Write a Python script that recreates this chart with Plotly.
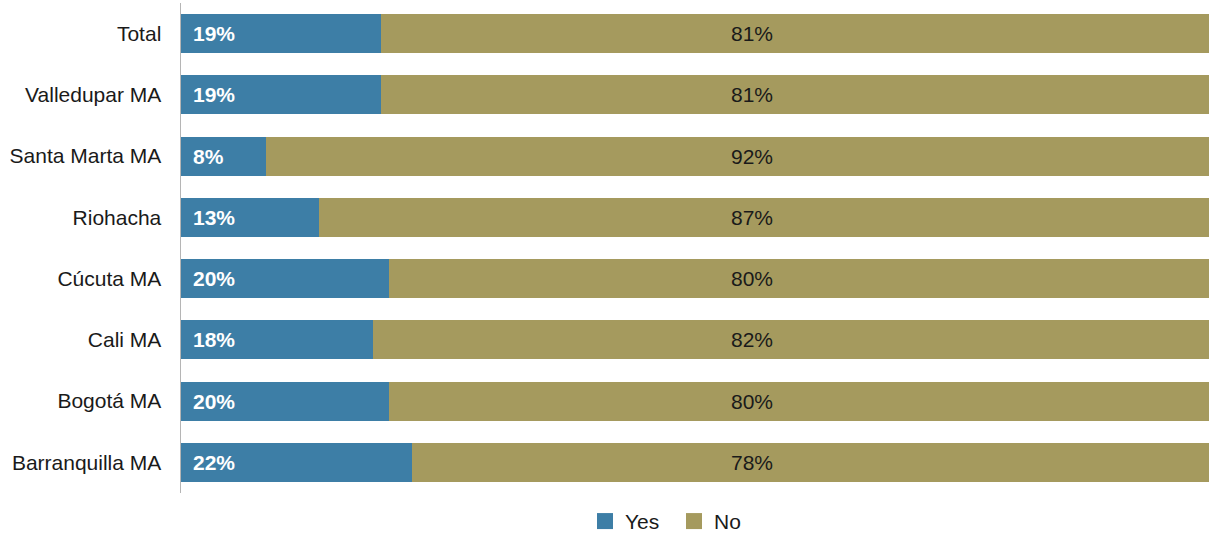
import plotly.graph_objects as go

categories = ["Total", "Valledupar MA", "Santa Marta MA", "Riohacha", "Cúcuta MA",
              "Cali MA", "Bogotá MA", "Barranquilla MA"]
yes_vals = [19.5, 19.5, 8.3, 13.4, 20.2, 18.7, 20.2, 22.5]
no_vals = [80.5, 80.5, 91.7, 86.6, 79.8, 81.3, 79.8, 77.5]
yes_labels = ["19%", "19%", "8%", "13%", "20%", "18%", "20%", "22%"]
no_labels = ["81%", "81%", "92%", "87%", "80%", "82%", "80%", "78%"]
series_names = ["Yes", "No"]

YES_COLOR = "#3d7ea6"
NO_COLOR = "#a59a5e"
FONT = "Liberation Sans, Arial, sans-serif"

fig = go.Figure()
fig.add_trace(go.Bar(y=categories, x=yes_vals, orientation="h", name=series_names[0],
                     marker=dict(color=YES_COLOR, line=dict(width=0)), hoverinfo="skip",
                     showlegend=False))
fig.add_trace(go.Bar(y=categories, x=no_vals, orientation="h", name=series_names[1],
                     marker=dict(color=NO_COLOR, line=dict(width=0)), hoverinfo="skip",
                     showlegend=False))
# legend entries with larger square swatches
for nm, col in zip(series_names, [YES_COLOR, NO_COLOR]):
    fig.add_trace(go.Scatter(x=[None], y=[None], mode="markers", name=nm,
                             marker=dict(symbol="square", size=16, color=col),
                             hoverinfo="skip"))

annotations = []
for cat, yl, nl in zip(categories, yes_labels, no_labels):
    annotations.append(dict(x=0, y=cat, xref="x", yref="y", text="<b>" + yl + "</b>",
                            showarrow=False, xanchor="left", xshift=10,
                            font=dict(family=FONT, size=21, color="white")))
    annotations.append(dict(x=55.5, y=cat, xref="x", yref="y", text=nl,
                            showarrow=False, xanchor="center",
                            font=dict(family=FONT, size=21, color="#1a1a1a")))

fig.update_layout(
    barmode="stack",
    bargap=0.36,
    width=1209, height=536,
    margin=dict(l=181, r=0, t=3, b=43, autoexpand=False),
    plot_bgcolor="white", paper_bgcolor="white",
    font=dict(family=FONT, size=21, color="#1a1a1a"),
    xaxis=dict(range=[0, 100], visible=False, fixedrange=True),
    yaxis=dict(autorange="reversed", showline=True, linecolor="#b5b5b5", linewidth=1.5,
               ticks="", ticklabelstandoff=14, showgrid=False, fixedrange=True,
               tickfont=dict(family=FONT, size=21, color="#1a1a1a")),
    legend=dict(orientation="h", x=0.393, xanchor="left", y=-0.058, yanchor="middle",
                font=dict(family=FONT, size=21, color="#1a1a1a"),
                itemclick=False, itemdoubleclick=False, traceorder="normal",
                itemsizing="trace", entrywidth=44),
    annotations=annotations,
    showlegend=True,
)

fig.write_html("out.html", config={"displayModeBar": False, "staticPlot": True},
               post_script="document.body.style.margin='0';document.body.style.overflow='hidden';")
